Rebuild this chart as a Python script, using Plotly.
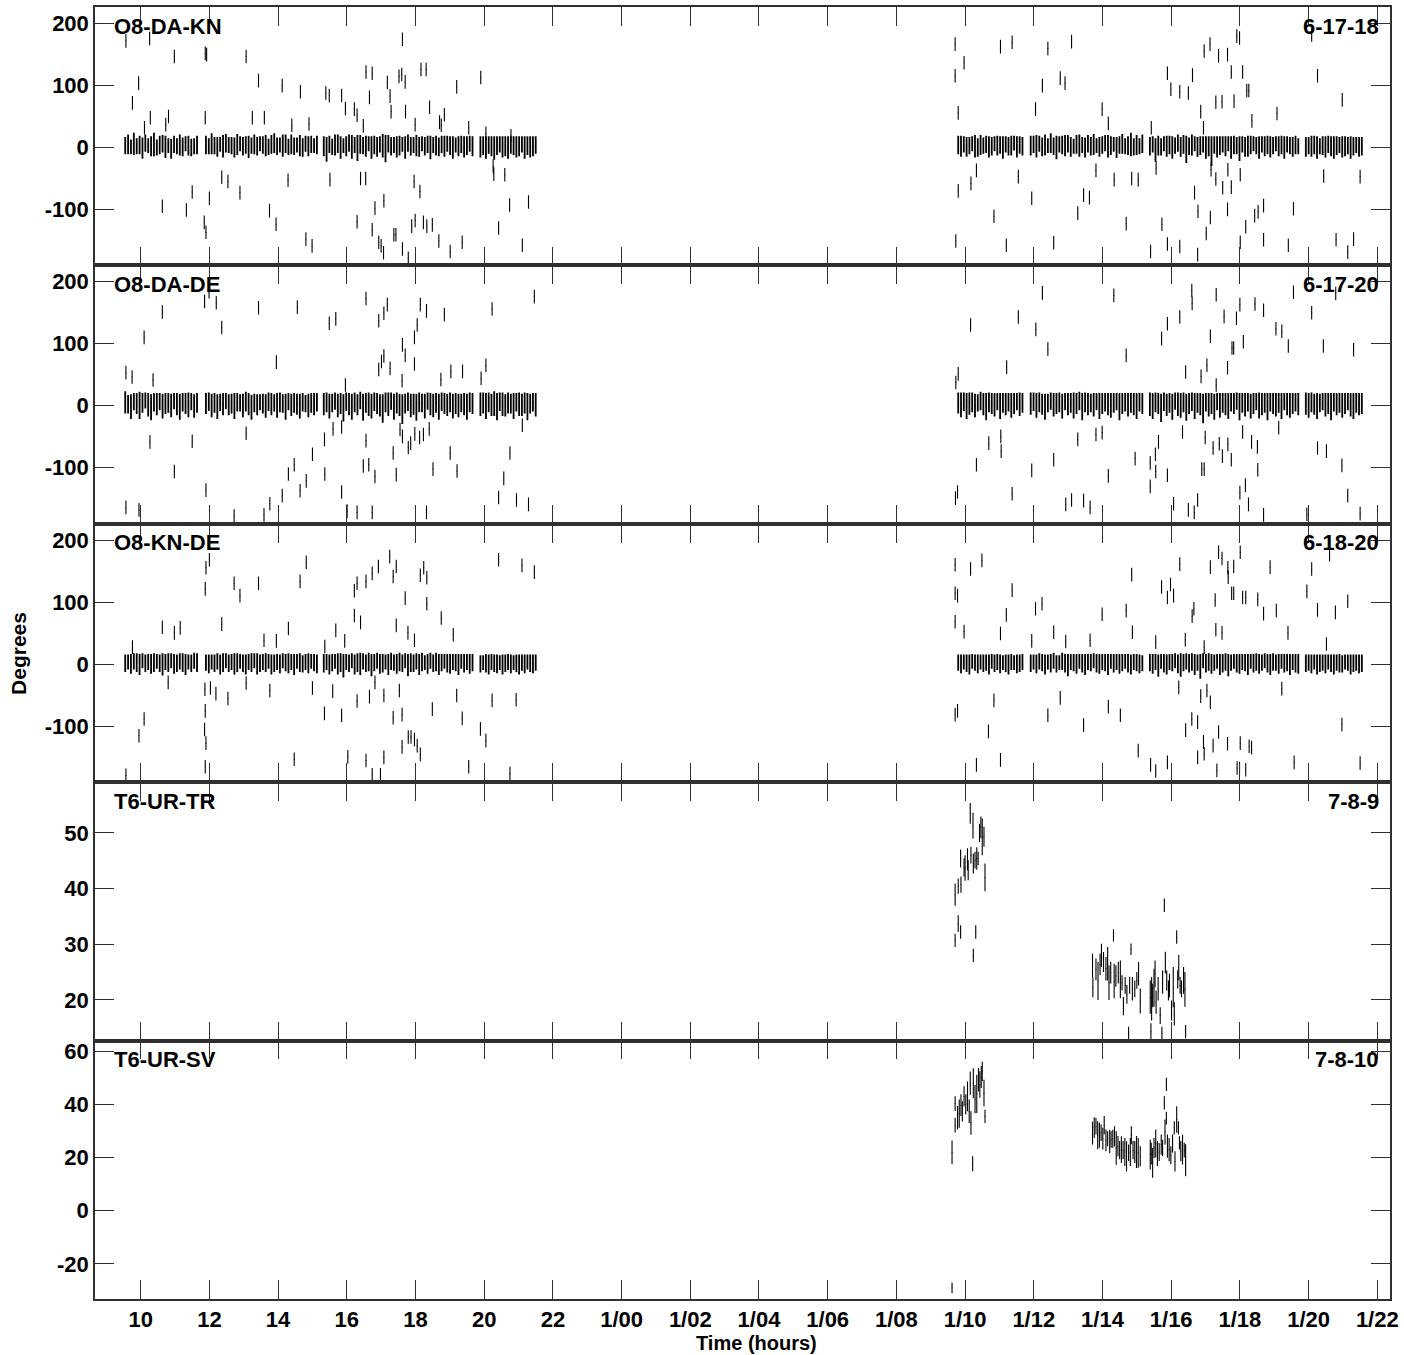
import numpy as np
import plotly.graph_objects as go
from plotly.subplots import make_subplots

# ---------------- axis labels ----------------
X_TICK_VALS = [10, 12, 14, 16, 18, 20, 22, 24, 26, 28, 30, 32, 34, 36, 38, 40, 42, 44, 46]
X_TICK_TEXT = ['10', '12', '14', '16', '18', '20', '22', '1/00', '1/02', '1/04', '1/06', '1/08',
               '1/10', '1/12', '1/14', '1/16', '1/18', '1/20', '1/22']
PANEL_NAMES = ['O8-DA-KN', 'O8-DA-DE', 'O8-KN-DE', 'T6-UR-TR', 'T6-UR-SV']
PANEL_TAGS = ['6-17-18', '6-17-20', '6-18-20', '7-8-9', '7-8-10']
Y_TICKS = [[-100, 0, 100, 200], [-100, 0, 100, 200], [-100, 0, 100, 200], [20, 30, 40, 50], [-20, 0, 20, 40, 60]]
Y_TICK_TEXT = [['-100', '0', '100', '200'], ['-100', '0', '100', '200'], ['-100', '0', '100', '200'],
               ['20', '30', '40', '50'], ['-20', '0', '20', '40', '60']]

# ---------------- dense scan blocks (hours) ----------------
BAND_START = [9.55, 11.90, 15.33, 19.89, 33.80, 35.91, 39.38, 43.92]
BAND_END = [11.64, 15.13, 19.66, 21.50, 35.67, 39.16, 43.70, 45.55]

KN_BAND_VAL = [
    [3, 5, 1, 6, 2, 4, -1, 7, 3, 2, 5, 0, 4, 6, 1, 3, -2, 5, 2, 4, 1, 6, 3, 0, 2, 4],
    [4, 2, 6, 3, 1, 5, 2, 7, 4, 3, 0, 5, 6, 2, 4, 1, 3, 5, 2, 6, 4, 3, 1, 5, 7, 2, 4, 3, 6, 1, 5, 2, 4, 3, 0, 6, 2, 5, 3, 4],
    [2, -3, 5, 1, 4, 6, 0, 3, 2, 7, 1, 4, -1, 5, 3, 2, 6, 0, 4, 1, 5, 3, -2, 6, 2, 4, 1, 3, 5, 0, 7, 2, 4, 3, 1, 6, 2, 5, 0, 4, 3, 1, 5, 2, 6, 3, 0, 4, 2, 5, 1, 3, 6, 2],
    [1, 3, 0, 4, 2, -1, 3, 5, 1, 2, 0, 4, 3, 1, 2, 5, 0, 3, 1, 2, 4],
    [4, 2, 5, 1, 3, 6, 2, 0, 4, 3, 5, 1, 2, 6, 3, 4, 0, 5, 2, 3, 7, 1, 4, 2],
    [3, 5, 2, 6, 1, 4, 3, 7, 2, 0, 5, 4, 3, 6, 1, 2, 5, 3, 4, 0, 6, 2, 5, 3, 1, 4, 7, 2, 3, 5, 0, 4, 6, 2, 3, 5, 1, 4, 2, 6],
    [2, 5, -4, 3, 1, 6, 2, 4, 0, 3, 7, 1, 5, -3, 2, 4, 6, 1, 3, 5, 0, 2, -6, 4, 1, 3, 5, 2, 6, 0, 4, 3, -2, 5, 1, 2, 4, 6, 3, 0, 5, 2, 4, 1, 3, 6, 2, 4, 0, 5, 3, 1, 4, 2],
    [1, 3, 2, 4, 0, 2, 3, 1, 5, 2, 0, 3, 4, 1, 2, 3, 0, 2, 4, 1, 2],
]
KN_BAND_ERR = [
    [14, 16, 12, 18, 13, 15, 17, 14, 12, 16, 19, 13, 15, 14, 18, 12, 16, 14, 13, 17, 15, 12, 16, 14, 13, 15],
    [15, 13, 17, 14, 16, 12, 18, 15, 13, 14, 16, 17, 12, 15, 14, 18, 13, 16, 15, 12, 14, 17, 13, 15, 16, 14, 12, 18, 15, 13, 16, 14, 12, 17, 15, 13, 16, 14, 12, 15],
    [16, 20, 14, 13, 17, 15, 18, 12, 16, 14, 19, 13, 21, 15, 14, 17, 12, 18, 15, 16, 13, 19, 22, 14, 15, 13, 17, 16, 12, 18, 14, 15, 13, 17, 16, 12, 15, 14, 19, 13, 16, 15, 14, 17, 13, 15, 18, 12, 16, 14, 17, 15, 13, 16],
    [17, 15, 18, 14, 16, 19, 15, 13, 17, 16, 18, 14, 15, 17, 16, 13, 18, 15, 17, 16, 14],
    [15, 17, 13, 16, 14, 12, 18, 15, 16, 13, 14, 17, 15, 12, 16, 14, 18, 13, 15, 16, 12, 17, 14, 15],
    [16, 14, 18, 13, 15, 17, 12, 16, 14, 19, 13, 15, 17, 14, 16, 12, 15, 18, 13, 16, 14, 15, 17, 12, 16, 14, 13, 18, 15, 12, 17, 14, 16, 13, 15, 19, 14, 16, 13, 15],
    [15, 13, 19, 16, 14, 12, 17, 15, 18, 13, 14, 16, 15, 22, 14, 17, 12, 16, 15, 13, 18, 16, 24, 14, 17, 15, 13, 16, 12, 18, 15, 14, 20, 13, 16, 17, 15, 12, 14, 18, 13, 16, 15, 17, 14, 12, 16, 15, 18, 13, 14, 16, 15, 13],
    [16, 14, 17, 15, 18, 13, 15, 17, 14, 16, 18, 15, 13, 17, 16, 14, 18, 15, 13, 16, 15],
]

DE_BAND_VAL = [
    [5, 2, -2, 6, 3, 0, 4, 8, 1, -3, 5, 2, 6, -1, 3, 4, 0, 7, 2, -2, 5, 3, 1, 6, -1, 4],
    [3, 6, 0, 4, -2, 5, 2, 7, 1, 3, -1, 5, 4, 0, 6, 2, -3, 4, 1, 5, 3, -1, 6, 2, 4, 0, 5, 3, -2, 6, 1, 4, 2, -1, 5, 3, 0, 4, 2, 5],
    [2, 5, -1, 4, 7, 0, 3, -4, 6, 2, -2, 5, 1, 8, -3, 4, 2, -1, 6, 3, 0, -5, 5, 2, 7, -2, 4, 1, -6, 3, 6, 0, 2, -3, 5, 4, -1, 7, 2, 0, 4, -2, 6, 3, 1, 5, -1, 3, 0, 4, 2, -2, 5, 3],
    [2, 4, -1, 5, 1, 3, -2, 6, 2, 0, 4, 3, -1, 5, 2, 1, 4, -2, 3, 5, 1],
    [4, 1, 6, -1, 3, 5, 0, 4, 7, 2, -2, 5, 3, 1, 6, -1, 4, 2, 5, 0, 3, 6, 2, 4],
    [3, 6, 0, 5, 2, -2, 4, 7, 1, 3, 5, -1, 6, 2, 4, 0, 3, 7, -2, 5, 2, 4, 1, 6, -1, 3, 5, 2, 0, 4, 6, -2, 3, 5, 1, 4, 2, -1, 5, 3],
    [2, -1, 5, 3, -4, 6, 1, 4, -2, 7, 2, 0, 5, -3, 3, 6, -1, 4, 2, -5, 5, 1, 3, -2, 6, 0, 4, 2, -1, 5, 3, 7, -2, 4, 1, 5, -1, 3, 6, 0, 2, 4, -2, 5, 3, 1, 4, -1, 6, 2, 0, 3, 5, 2],
    [3, 0, 5, 2, -1, 4, 6, 1, 3, -2, 5, 2, 4, 0, 3, 6, 1, -1, 4, 2, 3],
]
DE_BAND_ERR = [
    [18, 15, 20, 14, 17, 22, 16, 13, 19, 21, 15, 18, 14, 20, 17, 16, 19, 13, 18, 21, 15, 17, 20, 14, 19, 16],
    [17, 15, 19, 16, 20, 14, 18, 13, 17, 16, 21, 15, 14, 19, 16, 18, 20, 15, 17, 13, 16, 19, 15, 18, 14, 20, 16, 15, 21, 14, 18, 16, 17, 20, 15, 14, 19, 16, 18, 15],
    [18, 16, 20, 15, 14, 19, 17, 22, 15, 18, 21, 16, 17, 14, 22, 16, 19, 20, 15, 17, 18, 23, 16, 19, 14, 21, 17, 18, 24, 16, 15, 19, 17, 22, 16, 15, 20, 14, 18, 19, 16, 21, 15, 17, 18, 16, 20, 17, 19, 15, 18, 21, 16, 17],
    [19, 17, 21, 16, 18, 20, 22, 15, 19, 18, 17, 16, 21, 15, 19, 18, 17, 22, 16, 15, 19],
    [17, 20, 15, 21, 18, 16, 19, 14, 15, 18, 22, 16, 17, 19, 14, 21, 16, 18, 15, 20, 17, 14, 19, 16],
    [18, 15, 20, 16, 17, 21, 15, 14, 19, 17, 16, 20, 14, 18, 16, 21, 17, 15, 22, 16, 18, 15, 19, 14, 21, 17, 15, 18, 20, 16, 14, 22, 17, 15, 19, 16, 18, 21, 15, 17],
    [19, 21, 16, 17, 23, 15, 18, 16, 21, 14, 19, 20, 16, 22, 17, 15, 21, 16, 18, 24, 15, 19, 17, 21, 14, 20, 16, 18, 21, 15, 17, 14, 22, 16, 19, 15, 20, 17, 14, 21, 18, 16, 22, 15, 17, 19, 16, 21, 14, 18, 20, 17, 15, 18],
    [18, 20, 16, 17, 21, 15, 14, 19, 17, 22, 15, 18, 16, 20, 17, 14, 19, 21, 16, 18, 17],
]

KD_BAND_VAL = [
    [2, 4, 1, 5, 3, 0, 6, 2, 4, 1, 3, 5, 2, 0, 4, 3, 6, 1, 2, 5, 3, 0, 4, 2, 6, 3],
    [3, 1, 4, 2, 5, 0, 3, 6, 2, 4, 1, 3, 5, 2, 0, 4, 3, 6, 1, 2, 4, 3, 5, 0, 2, 4, 1, 6, 3, 2, 4, 0, 5, 3, 1, 4, 2, 5, 3, 1],
    [2, 4, 0, 3, 5, 1, 3, -2, 4, 2, 6, 0, 3, 1, 5, 2, 4, -1, 3, 6, 1, 2, 4, 0, 5, 3, 1, 4, 2, 6, -1, 3, 2, 5, 0, 4, 3, 1, 6, 2, 4, 0, 3, 5, 2, 1, 4, 3, 0, 5, 2, 4, 1, 3],
    [1, 3, 2, 0, 4, 2, 1, 3, 0, 2, 4, 1, 3, 2, 0, 3, 1, 4, 2, 1, 3],
    [3, 1, 4, 2, 0, 5, 3, 1, 4, 2, 3, 0, 5, 2, 4, 1, 3, 2, 0, 4, 3, 1, 2, 4],
    [2, 4, 1, 5, 3, 0, 4, 2, 6, 1, 3, 5, 2, -1, 4, 3, 1, 5, 2, 0, 4, 3, 6, 2, 1, 4, 3, 0, 5, 2, 4, 1, 3, 5, 2, 0, 4, 3, 1, 2],
    [3, 1, 4, -2, 5, 2, 0, 4, 3, 6, 1, -1, 3, 5, 2, 4, 0, 3, -3, 6, 2, 4, 1, 3, 5, 0, 2, 4, -1, 3, 5, 2, 1, 4, 3, 0, 5, 2, 4, 1, 3, 6, 2, 0, 4, 3, 1, 5, 2, 3, 0, 4, 2, 1],
    [2, 3, 1, 4, 0, 2, 3, 1, 4, 2, 0, 3, 2, 1, 4, 3, 0, 2, 3, 1, 2],
]
KD_BAND_ERR = [
    [14, 12, 16, 13, 15, 17, 12, 14, 13, 16, 15, 12, 14, 18, 13, 15, 12, 16, 14, 13, 15, 17, 12, 14, 13, 15],
    [13, 15, 12, 14, 13, 16, 15, 12, 14, 13, 17, 15, 12, 14, 16, 13, 15, 12, 17, 14, 13, 15, 12, 16, 14, 13, 15, 12, 14, 16, 13, 17, 12, 15, 14, 13, 16, 12, 14, 15],
    [15, 13, 16, 14, 12, 17, 15, 19, 13, 14, 12, 16, 15, 18, 13, 14, 15, 18, 14, 13, 16, 15, 12, 17, 14, 13, 16, 15, 14, 12, 18, 15, 14, 13, 17, 15, 12, 16, 13, 14, 15, 17, 14, 12, 15, 16, 13, 14, 17, 12, 15, 13, 16, 14],
    [14, 12, 15, 16, 13, 14, 15, 12, 16, 14, 13, 15, 12, 14, 16, 13, 15, 12, 14, 15, 13],
    [13, 15, 12, 14, 16, 12, 13, 15, 12, 14, 13, 16, 12, 14, 13, 15, 12, 14, 16, 13, 12, 15, 14, 13],
    [14, 12, 15, 13, 14, 16, 12, 15, 13, 14, 12, 14, 15, 18, 13, 14, 16, 12, 15, 17, 13, 14, 12, 15, 16, 13, 14, 17, 12, 15, 13, 16, 14, 12, 15, 16, 13, 14, 15, 13],
    [14, 16, 13, 18, 12, 15, 16, 13, 14, 12, 15, 19, 14, 13, 15, 14, 17, 13, 20, 12, 15, 14, 16, 13, 12, 17, 15, 14, 18, 13, 12, 15, 16, 13, 14, 17, 12, 15, 14, 16, 13, 12, 15, 17, 14, 13, 16, 12, 15, 14, 17, 13, 15, 16],
    [14, 13, 15, 12, 16, 14, 13, 15, 12, 14, 16, 13, 15, 14, 12, 13, 16, 14, 13, 15, 14],
]

# ---------------- scattered (wrapped) phases ----------------
OUTLIER_ERR = [11, 11, 11]

KN_OUT_T = [9.57, 10.26, 9.76, 9.94, 10.98, 11.88, 11.92, 13.07, 13.43, 14.12, 14.65, 15.39, 15.49, 15.85, 15.96, 16.22, 16.30, 16.48,
            16.56, 16.74, 16.66, 17.18, 17.26, 17.52, 17.60, 17.70, 17.62, 17.29, 17.71, 17.99, 18.16, 18.31, 18.41, 18.70, 18.84, 18.75,
            19.20, 19.55, 19.90, 20.05, 20.78, 20.28, 20.74, 21.29, 20.42, 21.11, 19.36, 19.01, 18.68, 18.49, 18.33, 18.23, 17.99, 17.89,
            17.96, 18.13, 17.79, 17.62, 17.37, 17.43, 17.08, 16.82, 16.93, 17.00, 17.07, 16.74, 16.30, 16.40, 16.55, 15.51, 14.29, 14.81,
            14.99, 13.94, 13.75, 12.89, 12.36, 12.54, 12.00, 11.85, 11.90, 11.50, 11.33, 10.63, 10.28, 10.73, 10.81, 10.11, 11.88, 13.25,
            13.60, 14.40, 14.90, 20.26, 20.60,
            33.71, 33.71, 33.97, 33.80, 33.80, 33.73, 34.17, 34.33, 35.03, 35.37, 34.84, 35.20, 35.55, 36.05, 35.94, 36.41, 36.25, 36.77,
            36.91, 37.10, 36.58, 37.28, 37.45, 37.62, 37.81, 37.99, 38.17, 38.34, 38.69, 38.85, 39.04, 39.40, 39.42, 39.56, 39.73, 39.89,
            39.99, 40.25, 40.50, 40.62, 39.89, 40.25, 40.68, 40.78, 40.77, 40.86, 40.94, 40.96, 41.13, 41.02, 41.14, 41.16, 41.30, 41.30,
            41.48, 41.38, 41.64, 41.50, 41.65, 41.64, 41.75, 41.75, 42.08, 41.83, 41.91, 41.99, 42.01, 42.01, 42.17, 42.20, 42.26, 42.35,
            42.43, 42.53, 42.69, 42.69, 43.08, 43.41, 43.56, 44.26, 44.44, 44.98, 44.80, 45.31, 45.14, 45.50, 44.09]
KN_OUT_V = [172, 176, 72, 104, 147, 152, 150, 147, 108, 100, 90, 88, 84, 84, 63, 62, 52, 35,
            122, 120, 81, 105, 83, 115, 118, 106, 175, 58, 58, 37, 126, 126, 65, 41, 53, 36,
            98, 32, 113, 23, 19, -43, -93, -88, -130, -158, -153, -168, -151, -125, -127, -121, -118, -127,
            -55, -71, -179, -164, -141, -141, -86, -98, -153, -159, -170, -133, -120, -50, -50, -52, -53, -148,
            -159, -124, -102, -73, -48, -55, -82, -121, -137, -72, -101, -95, 48, 37, 50, 32, 48, 48,
            48, 36, 38, -30, -44,
            167, 116, 137, 56, -70, -151, -58, -37, 163, 170, -111, -158, -47, 62, -82, 160, 100, 112,
            104, 171, -154, -106, -77, -81, -37, 62, 39, -52, -123, -50, -52, -168, 32, -33, -124, 120,
            94, 90, 88, 117, -156, -160, -73, -103, -173, 58, 32, 156, 167, -139, -113, -36, -51, 73,
            74, 148, 150, -65, -36, -100, -64, 122, 122, 75, 180, 177, -44, -153, -128, 92, 92, 43,
            -110, -104, -94, -149, 55, -158, -99, 116, -46, 77, -149, -148, -169, -47, 182]

DE_OUT_T = [9.57, 9.75, 10.10, 10.36, 10.63, 10.27, 10.98, 11.50, 9.57, 9.95, 11.86, 12.20, 11.99, 12.36, 11.90, 12.72, 13.07, 13.43,
            13.59, 13.76, 13.95, 14.12, 14.30, 14.47, 14.56, 14.64, 14.82, 15.00, 15.36, 15.35, 15.49, 15.68, 15.60, 15.85, 15.85, 15.96,
            16.01, 16.30, 16.48, 16.64, 16.56, 16.56, 16.74, 16.82, 16.93, 17.08, 17.18, 16.93, 17.01, 17.08, 17.26, 17.35, 17.44, 17.62,
            17.70, 17.61, 17.55, 17.62, 17.79, 17.86, 17.98, 18.12, 18.23, 18.40, 17.97, 18.05, 17.97, 18.14, 18.32, 18.32, 18.51, 18.74,
            18.84, 19.01, 19.03, 19.37, 19.21, 19.91, 20.05, 20.23, 20.42, 20.57, 20.75, 20.94, 21.11, 21.29, 21.46,
            33.73, 33.80, 33.72, 33.78, 34.16, 34.33, 34.69, 35.04, 35.05, 35.21, 35.37, 35.55, 35.94, 36.06, 36.25, 36.41, 36.58, 36.93,
            37.10, 37.45, 37.64, 37.28, 37.81, 37.99, 38.17, 38.33, 38.69, 38.95, 39.39, 39.54, 39.55, 39.39, 39.72, 39.89, 40.25, 39.63,
            39.89, 40.07, 40.33, 40.42, 40.50, 40.67, 40.60, 40.61, 40.77, 40.87, 40.89, 40.96, 40.99, 41.04, 41.14, 41.22, 41.31, 41.31,
            41.40, 41.49, 41.54, 41.64, 41.65, 41.75, 41.77, 41.82, 41.90, 42.00, 42.10, 42.08, 42.00, 42.16, 42.25, 42.34, 42.51, 42.52,
            42.69, 42.44, 42.69, 43.05, 43.22, 43.41, 43.13, 43.56, 44.09, 44.26, 44.52, 44.43, 43.95, 44.79, 44.97, 45.14, 45.31, 45.50]
DE_OUT_V = [53, 46, 110, 41, 151, -59, -107, -58, -165, -169, 168, 166, 184, 126, -137, -179, -45, 158,
            -177, -159, 70, -146, -111, -96, 159, -138, -122, -79, -111, -55, 133, 140, -38, -140, -35, 33,
            -171, -173, -98, -96, 173, -57, -173, -115, 137, 149, 163, 58, 71, 80, 60, -77, -112, 98,
            81, 40, -39, -50, -68, -61, -46, -52, -47, -38, 110, 130, 67, 163, 153, -173, -103, 42,
            147, -77, 55, 55, -106, 44, 65, 156, -149, -118, -77, -153, -32, -160, 176,
            37, 51, -150, -140, 130, -96, -61, -50, -74, 62, -143, 143, -105, 123, 182, 91, -88, -160,
            -153, -154, -165, -55, -47, -44, -114, 178, 81, -86, -93, -79, -107, -131, 108, 132, 143, -59,
            -113, -159, -43, 54, -169, -173, 186, 165, -153, 47, -103, -103, -52, 65, 112, -69, 179, 33,
            -62, -82, 144, 61, -63, -88, 93, 93, 141, 163, 103, -43, -141, -129, -160, -59, -67, -104,
            -177, 164, 154, 124, 120, 96, -36, 183, 150, -69, -74, 96, -176, 181, -97, -146, 90, -175]

KD_OUT_T = [9.57, 9.76, 9.95, 10.10, 10.63, 10.98, 11.15, 10.80, 11.90, 12.00, 11.88, 11.87, 11.88, 11.86, 11.90, 11.88, 12.03, 12.19,
            12.36, 12.54, 12.72, 12.89, 13.07, 13.43, 13.59, 13.76, 13.95, 14.30, 14.47, 14.64, 14.82, 15.00, 15.35, 15.36, 15.59, 15.68,
            15.85, 15.94, 16.03, 16.22, 16.30, 16.22, 16.40, 16.30, 16.56, 16.74, 16.92, 16.56, 16.66, 16.74, 16.98, 16.82, 17.08, 17.08,
            17.25, 17.35, 17.44, 17.35, 17.44, 17.53, 17.61, 17.61, 17.70, 17.78, 17.79, 17.87, 17.97, 18.05, 18.14, 17.97, 18.14, 18.24,
            18.33, 18.33, 18.49, 18.75, 19.10, 19.20, 19.36, 19.55, 19.89, 20.05, 20.23, 20.42, 20.75, 20.93, 21.10, 21.46,
            33.71, 33.71, 33.71, 33.71, 33.78, 33.78, 33.97, 34.16, 34.49, 34.33, 34.68, 34.84, 35.03, 35.03, 35.20, 35.37, 35.94, 36.05,
            36.24, 36.41, 36.58, 36.77, 36.93, 37.45, 37.64, 37.99, 38.17, 38.52, 38.69, 38.85, 38.87, 39.04, 39.40, 39.55, 39.55, 39.72,
            39.98, 39.89, 40.07, 39.89, 40.25, 40.22, 40.41, 40.42, 40.60, 40.77, 40.61, 40.66, 40.77, 40.94, 40.96, 40.86, 40.96, 41.04,
            41.14, 41.14, 41.22, 41.28, 41.30, 41.48, 41.33, 41.38, 41.48, 41.38, 41.64, 41.65, 41.66, 41.82, 41.76, 41.82, 42.01, 42.01,
            41.92, 41.99, 42.17, 42.08, 42.17, 42.27, 42.34, 42.52, 42.69, 42.88, 43.06, 43.22, 43.40, 43.58, 43.95, 44.09, 44.26, 44.52,
            44.61, 44.78, 44.97, 45.14, 45.50]
KD_OUT_V = [-179, 28, -115, -88, 60, 51, 59, -29, 156, 169, 122, -40, -75, -105, -127, -165, -38, -47,
            65, -55, 131, 111, -30, 131, 39, -42, 38, 58, -153, 134, 165, -38, -79, 29, -43, 55,
            -82, 38, -149, 119, 131, 79, 68, -59, 134, 147, 158, -155, -52, -178, -178, -29, -50, -150,
            174, 142, 158, -86, 63, -42, -81, -133, 107, 51, -117, -117, -121, -131, -145, 39, 144, 156,
            140, 98, -72, 75, 48, -50, -87, -165, -104, -123, -58, 169, -176, -57, 160, 149,
            161, 115, 69, -81, 111, -75, 53, 154, 168, -162, -108, -58, 50, -154, 80, 120, 38, 90,
            98, -82, 52, -54, 37, -98, 39, 81, -68, -82, 87, 145, 52, -139, -162, -172, 36, 125,
            129, 108, 111, -158, 162, -37, 40, -106, -88, -93, 78, 90, -150, -125, -144, -51, 28, -42,
            157, -61, -131, 104, 56, 51, -171, 181, 171, -109, -128, 156, 141, 158, 115, 115, 181, -127,
            -167, -168, -170, 108, 108, -132, -134, 105, 82, 157, 87, -39, 51, -158, 118, 154, 88, 33,
            177, 84, -97, 102, -159]

# ---------------- T6 baselines ----------------
TR_T = [33.71, 33.80, 33.87, 33.88, 33.97, 34.00, 34.07, 34.09, 34.15, 34.17, 34.23, 34.24, 34.29, 34.34, 34.38, 34.42, 34.46, 34.50,
        34.55, 34.58, 33.80, 33.87, 33.71, 34.31, 34.24,
        37.71, 37.72, 37.81, 37.87, 37.93, 37.97, 38.03, 38.10, 38.15, 38.19, 38.24, 38.32, 38.34, 38.39, 38.46, 38.52, 38.57, 38.61,
        38.66, 38.71, 38.76, 38.79, 38.83, 38.87, 38.94, 39.00, 39.05, 39.10, 39.39, 39.41, 39.43, 39.46, 39.50, 39.53, 39.56, 39.62,
        39.68, 39.73, 39.75, 39.80, 39.83, 39.87, 39.92, 39.95, 40.01, 40.06, 40.09, 40.16, 40.19, 40.22, 40.26, 40.30, 40.36, 40.40, 40.42]
TR_V = [38.9, 40.4, 45.4, 40.7, 43.8, 43.7, 45.3, 43.3, 53.5, 46.0, 51.3, 44.5, 45.1, 45.4, 45.4, 50.0, 51.0, 49.3,
        49.3, 42.0, 33.7, 32.2, 30.7, 32.2, 28.0,
        26.2, 22.3, 25.5, 23.4, 26.4, 28.0, 26.8, 25.6, 26.5, 23.1, 24.9, 31.6, 23.4, 24.3, 24.9, 23.7, 23.1, 18.9,
        22.6, 21.0, 14.0, 22.6, 29.1, 22.0, 22.0, 23.5, 24.7, 19.8, 20.5, 14.3, 20.2, 20.8, 22.2, 24.7, 19.6, 22.0,
        17.2, 14.0, 23.2, 37.0, 26.7, 23.5, 21.7, 22.6, 18.1, 22.3, 17.5, 31.3, 23.7, 25.8, 22.6, 22.0, 23.5, 21.9, 14.3]
TR_E = [2.0, 1.35, 1.6, 1.45, 1.65, 2.3, 1.95, 1.8, 1.85, 1.5, 2.3, 1.8, 1.5, 2.0, 1.2, 1.65, 1.95, 3.3,
        1.8, 2.5, 1.5, 1.2, 1.2, 1.2, 1.2,
        2.1, 1.8, 1.95, 3.4, 1.95, 2.1, 1.8, 2.1, 3.0, 3.1, 1.95, 1.1, 3.1, 1.95, 1.95, 3.4, 1.35, 1.65,
        1.5, 1.7, 1.2, 1.5, 1.05, 2.1, 1.5, 1.5, 2.1, 2.25, 3.0, 1.5, 3.9, 2.1, 3.4, 2.4, 2.1, 2.1,
        1.5, 1.2, 2.1, 1.2, 1.95, 1.8, 1.8, 2.1, 1.8, 3.6, 2.1, 1.2, 1.65, 2.25, 1.5, 1.5, 2.4, 3.1, 1.2]

SV_T = [33.62, 33.62, 33.71, 33.71, 33.78, 33.83, 33.88, 33.92, 33.97, 34.02, 34.07, 34.12, 34.15, 34.17, 34.22, 34.24, 34.29, 34.34,
        34.39, 34.43, 34.47, 34.50, 34.55, 34.58,
        37.71, 37.76, 37.81, 37.86, 37.91, 37.96, 38.01, 38.05, 38.10, 38.15, 38.21, 38.25, 38.30, 38.35, 38.40, 38.45, 38.50, 38.55,
        38.60, 38.65, 38.70, 38.76, 38.81, 38.84, 38.89, 38.94, 38.99, 39.04, 39.10, 39.39, 39.42, 39.46, 39.50, 39.55, 39.60, 39.65,
        39.71, 39.75, 39.80, 39.82, 39.86, 39.86, 39.89, 39.94, 39.99, 40.04, 40.09, 40.11, 40.16, 40.21, 40.24, 40.28, 40.33, 40.38, 40.42]
SV_V = [22.0, -29.0, 40.3, 32.2, 35.0, 36.5, 39.7, 37.4, 43.0, 40.0, 43.0, 37.4, 48.0, 33.0, 17.7, 48.0, 42.0, 44.0,
        49.3, 47.5, 50.3, 52.4, 44.3, 35.5,
        29.2, 31.3, 31.8, 28.4, 28.4, 29.3, 27.1, 32.2, 26.5, 27.1, 26.1, 26.8, 27.1, 28.0, 23.6, 24.3, 22.8, 23.0,
        22.8, 22.1, 20.5, 21.8, 22.1, 28.4, 22.8, 22.1, 22.1, 21.8, 20.5, 21.1, 21.5, 18.0, 23.6, 25.3, 21.5, 22.1,
        24.9, 23.6, 40.6, 29.6, 47.5, 34.8, 24.3, 23.0, 20.9, 25.3, 31.2, 18.6, 34.3, 31.2, 25.5, 22.4, 23.0, 22.8, 19.0]
SV_E = [4.4, 2.0, 2.8, 2.8, 4.4, 5.3, 4.1, 3.8, 3.8, 3.8, 5.6, 4.4, 4.4, 4.4, 2.8, 5.6, 5.3, 7.2,
        4.4, 5.0, 4.1, 3.6, 5.0, 2.5,
        4.3, 3.9, 3.1, 5.3, 4.7, 3.1, 4.1, 3.4, 4.1, 2.8, 4.4, 3.1, 3.4, 3.8, 6.3, 3.8, 3.4, 5.0,
        3.4, 5.3, 5.6, 3.1, 5.3, 3.4, 3.4, 4.1, 6.0, 5.6, 3.8, 5.6, 4.1, 5.6, 3.8, 5.3, 4.7, 3.4,
        3.8, 3.1, 2.5, 4.7, 2.5, 2.4, 4.4, 4.4, 3.4, 3.4, 2.5, 3.8, 5.0, 2.5, 2.5, 3.8, 5.6, 2.8, 6.0]

# ---------------- layout constants ----------------
X_RANGE = [8.67, 46.37]
Y_RANGES = [[-190.5, 227], [-191.5, 226.5], [-190, 227], [12.7, 59.1], [-33.2, 64.0]]
FONT = 'Liberation Sans, Arial, sans-serif'
LINE_C = '#303030'


def band_series(vals, errs):
    t, v, e = [], [], []
    for s, en, bv, be in zip(BAND_START, BAND_END, vals, errs):
        n = min(len(bv), len(be))
        t.extend(np.linspace(s, en, n).tolist())
        v.extend(bv[:n])
        e.extend(be[:n])
    return t, v, e


def add_bars(fig, row, t, v, e, thick=1.1):
    fig.add_trace(go.Scatter(
        x=t, y=v, mode='markers',
        marker=dict(size=1, color='black'),
        error_y=dict(type='data', array=e, symmetric=True, thickness=thick, width=0, color='black'),
        showlegend=False, hoverinfo='skip'), row=row, col=1)


fig = make_subplots(rows=5, cols=1, shared_xaxes=True, vertical_spacing=0)

bands = [(KN_BAND_VAL, KN_BAND_ERR), (DE_BAND_VAL, DE_BAND_ERR), (KD_BAND_VAL, KD_BAND_ERR)]
outs = [(KN_OUT_T, KN_OUT_V), (DE_OUT_T, DE_OUT_V), (KD_OUT_T, KD_OUT_V)]
for i in range(3):
    t, v, e = band_series(*bands[i])
    add_bars(fig, i + 1, t, v, e, thick=1.8)
    ot, ov = outs[i]
    n = min(len(ot), len(ov))
    add_bars(fig, i + 1, ot[:n], ov[:n], [OUTLIER_ERR[i]] * n)

add_bars(fig, 4, TR_T, TR_V, TR_E)
add_bars(fig, 5, SV_T, SV_V, SV_E)

tickfont = dict(family=FONT, size=22, color='black', weight='bold')
for r in range(1, 6):
    fig.update_xaxes(row=r, col=1, range=X_RANGE, tickvals=X_TICK_VALS, ticktext=X_TICK_TEXT,
                     ticks='inside', ticklen=19, tickwidth=1, tickcolor=LINE_C,
                     showline=True, linecolor=LINE_C, linewidth=1.5, mirror='ticks',
                     showgrid=False, zeroline=False, showticklabels=(r == 5),
                     tickfont=tickfont, ticklabelstandoff=0)
    fig.update_yaxes(row=r, col=1, range=Y_RANGES[r - 1], tickvals=Y_TICKS[r - 1], ticktext=Y_TICK_TEXT[r - 1],
                     ticks='inside', ticklen=19, tickwidth=1, tickcolor=LINE_C,
                     showline=True, linecolor=LINE_C, linewidth=1.5, mirror='ticks',
                     showgrid=False, zeroline=False, tickfont=tickfont)

annos = []
for r in range(1, 6):
    xs = 'x domain' if r == 1 else f'x{r} domain'
    ys = 'y domain' if r == 1 else f'y{r} domain'
    annos.append(dict(xref=xs, yref=ys, x=0.013, y=1, yshift=-19, xanchor='left', yanchor='middle',
                      text=PANEL_NAMES[r - 1], showarrow=False,
                      font=dict(family=FONT, size=22, color='black', weight='bold')))
    annos.append(dict(xref=xs, yref=ys, x=0.993, y=1, yshift=-19, xanchor='right', yanchor='middle',
                      text=PANEL_TAGS[r - 1], showarrow=False,
                      font=dict(family=FONT, size=22, color='black', weight='bold')))
annos.append(dict(xref='paper', yref='paper', x=-0.0595, y=0.5, xanchor='center', yanchor='middle',
                  text='Degrees', textangle=-90, showarrow=False,
                  font=dict(family=FONT, size=21, color='black', weight='bold')))
annos.append(dict(xref='paper', yref='paper', x=0.511, y=-0.034, xanchor='center', yanchor='middle',
                  text='Time (hours)', showarrow=False,
                  font=dict(family=FONT, size=20, color='black', weight='bold')))

fig.update_layout(width=1404, height=1355, margin=dict(l=95, r=14, t=5, b=56),
                  paper_bgcolor='white', plot_bgcolor='white', showlegend=False,
                  font=dict(family=FONT, size=22, color='black'), annotations=annos)

fig.write_html('out.html', config={'displayModeBar': False},
               post_script="document.body.style.margin='0px';")
